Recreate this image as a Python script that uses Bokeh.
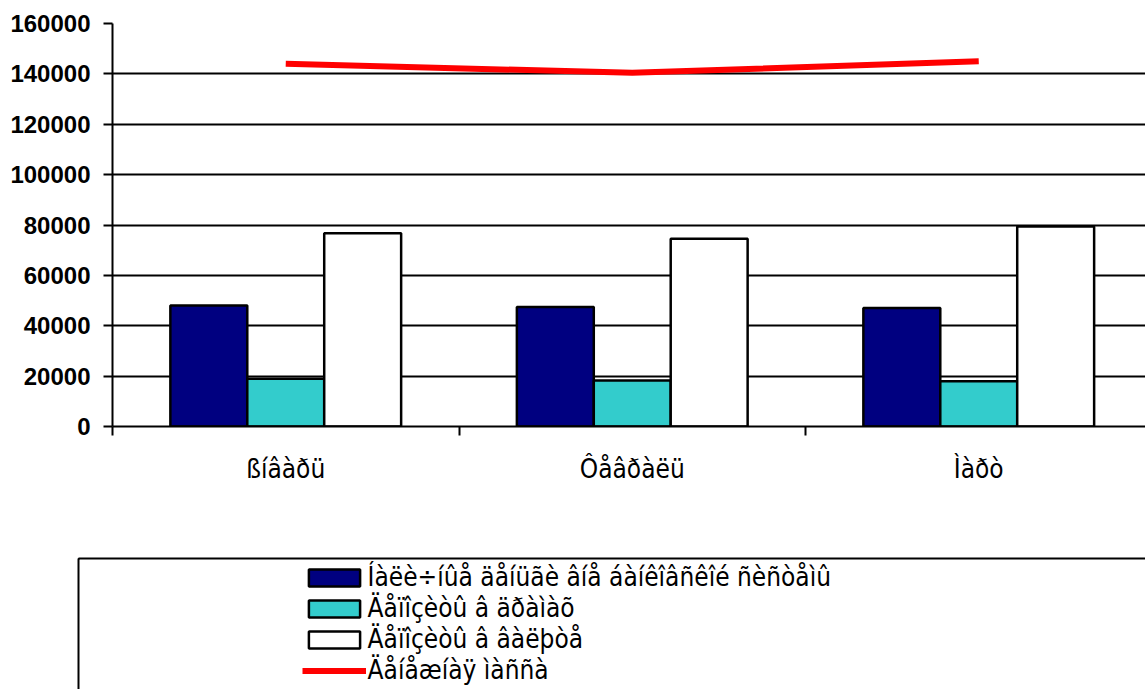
from bokeh.plotting import figure
from bokeh.models import (Range1d, FixedTicker, LinearAxis, Legend, LegendItem,
                          ColumnDataSource, NumeralTickFormatter, Grid)
from bokeh.layouts import column
from bokeh.transform import dodge
from bokeh.embed import file_html
from bokeh.resources import INLINE

# ---- data ----
months = ["ßíâàðü", "Ôåâðàëü", "Ìàðò"]
cash = [48000, 47400, 47000]          # Íàëè÷íûå äåíüãè âíå áàíêîâñêîé ñèñòåìû
dram_dep = [19000, 18300, 18000]      # Äåïîçèòû â äðàìàõ
fx_dep = [76700, 74500, 79400]        # Äåïîçèòû â âàëþòå
money = [144000, 140400, 145000]      # Äåíåæíàÿ ìàññà
series_names = ["Íàëè÷íûå äåíüãè âíå áàíêîâñêîé ñèñòåìû",
                "Äåïîçèòû â äðàìàõ",
                "Äåïîçèòû â âàëþòå",
                "Äåíåæíàÿ ìàññà"]
y_ticks = [0, 20000, 40000, 60000, 80000, 100000, 120000, 140000, 160000]

NAVY = "#000080"
TEAL = "#33CCCC"
RED = "#FF0000"
LABEL_FONT = "'DejaVu Sans Condensed', 'Liberation Sans Narrow', 'Liberation Sans', sans-serif"
NUM_FONT = "'Liberation Sans', sans-serif"

pos = [i + 0.5 for i in range(len(months))]
src = ColumnDataSource(dict(x=pos, cash=cash, dram=dram_dep, fx=fx_dep, money=money))

W = 1145
H1, H2 = 540, 149
LEFT, TOP, BOTTOM = 112, 23, 426
CAT_PX = 346.5
FRAME_W = W - LEFT
BW = 0.222

p = figure(width=W, height=H1, output_backend="svg", toolbar_location=None,
           x_range=Range1d(0, FRAME_W / CAT_PX), y_range=Range1d(0, 160000),
           x_axis_type=None, y_axis_type=None,
           min_border_left=LEFT, min_border_right=0, min_border_top=TOP,
           min_border_bottom=H1 - BOTTOM)
p.frame_align = False
p.outline_line_color = None
p.background_fill_color = "white"
p.border_fill_color = "white"

yaxis = LinearAxis(ticker=FixedTicker(ticks=y_ticks),
                   formatter=NumeralTickFormatter(format="0"))
yaxis.axis_line_color = "black"
yaxis.axis_line_width = 2
yaxis.major_tick_line_color = "black"
yaxis.major_tick_line_width = 2
yaxis.major_tick_out = 9
yaxis.major_tick_in = 0
yaxis.minor_tick_line_color = None
yaxis.major_label_standoff = 13
yaxis.major_label_text_font = NUM_FONT
yaxis.major_label_text_font_size = "24px"
yaxis.major_label_text_font_style = "bold"
yaxis.major_label_text_color = "black"
p.add_layout(yaxis, "left")

xaxis = LinearAxis(ticker=FixedTicker(ticks=pos, minor_ticks=[0, 1, 2, 3]),
                   major_label_overrides={pv: m for pv, m in zip(pos, months)})
xaxis.axis_line_color = "black"
xaxis.axis_line_width = 2
xaxis.major_tick_line_color = None
xaxis.major_tick_out = 0
xaxis.major_tick_in = 0
xaxis.minor_tick_line_color = "black"
xaxis.minor_tick_line_width = 2
xaxis.minor_tick_out = 9
xaxis.minor_tick_in = 0
xaxis.major_label_standoff = 18
xaxis.major_label_text_font = LABEL_FONT
xaxis.major_label_text_font_size = "26px"
xaxis.major_label_text_color = "black"
p.add_layout(xaxis, "below")

grid = Grid(dimension=1, ticker=yaxis.ticker, grid_line_color="black", grid_line_width=2)
p.add_layout(grid)

bar_styles = [dict(fill_color=NAVY, line_color="black", line_width=2.5),
              dict(fill_color=TEAL, line_color="black", line_width=2.5),
              dict(fill_color="white", line_color="black", line_width=2.5)]
line_style = dict(line_color=RED, line_width=6)

p.vbar(x=dodge("x", -BW), top="cash", width=BW, source=src, **bar_styles[0])
p.vbar(x="x", top="dram", width=BW, source=src, **bar_styles[1])
p.vbar(x=dodge("x", BW), top="fx", width=BW, source=src, **bar_styles[2])
p.line(x="x", y="money", source=src, **line_style)

# ---- legend panel (its frame's left/top edges form the legend box) ----
BOX_LEFT, BOX_TOP = 78, 558
p2 = figure(width=W, height=H2, output_backend="svg", toolbar_location=None,
            x_range=Range1d(10, 11), y_range=Range1d(-2, -1),
            x_axis_type=None, y_axis_type=None,
            min_border_left=BOX_LEFT, min_border_right=0,
            min_border_top=BOX_TOP - H1, min_border_bottom=0)
p2.frame_align = False
p2.outline_line_color = None
p2.background_fill_color = "white"
p2.border_fill_color = "white"
for loc in ("left", "above"):
    ax = LinearAxis(ticker=FixedTicker(ticks=[]))
    ax.axis_line_color = "black"
    ax.axis_line_width = 2
    ax.major_tick_line_color = None
    ax.minor_tick_line_color = None
    ax.major_tick_out = 0
    ax.major_tick_in = 0
    ax.major_label_text_font_size = "0px"
    p2.add_layout(ax, loc)

# legend swatches (data lies outside this panel's visible ranges)
l_cash = p2.vbar(x="x", top="cash", width=BW, source=src, **bar_styles[0])
l_dram = p2.vbar(x="x", top="dram", width=BW, source=src, **bar_styles[1])
l_fx = p2.vbar(x="x", top="fx", width=BW, source=src, **bar_styles[2])
l_money = p2.line(x="x", y="money", source=src, **line_style)

ITEM_H = 31
LEG_TOP = 561.5
GLYPH_LEFT = 301.6
legend = Legend(items=[LegendItem(label=n, renderers=[r])
                       for n, r in zip(series_names, [l_cash, l_dram, l_fx, l_money])],
                location=(GLYPH_LEFT - BOX_LEFT, (H1 + H2) - (LEG_TOP + 4 * ITEM_H)),
                padding=0, margin=0, spacing=0,
                glyph_width=64, glyph_height=21, label_height=ITEM_H,
                label_standoff=2, border_line_color=None,
                background_fill_alpha=0,
                label_text_font=LABEL_FONT, label_text_font_size="26px",
                label_text_color="black")
p2.add_layout(legend, "center")

layout = column(p, p2, spacing=0)
open("out.html", "w").write(file_html(layout, INLINE))
